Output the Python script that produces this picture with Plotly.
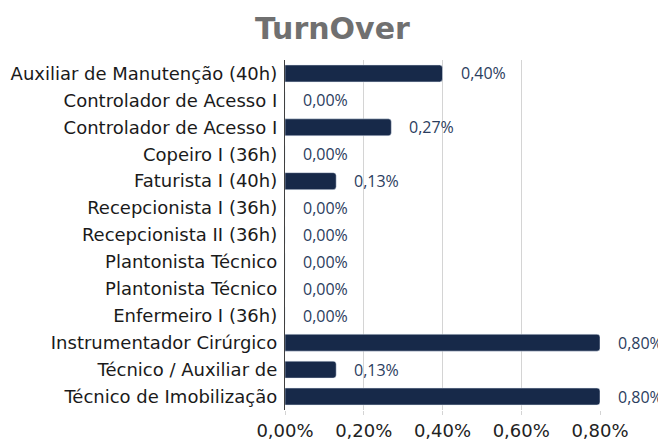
import plotly.graph_objects as go

categories = [
    "Auxiliar de Manutenção (40h)",
    "Controlador de Acesso I",
    "Controlador de Acesso I",
    "Copeiro I (36h)",
    "Faturista I (40h)",
    "Recepcionista I (36h)",
    "Recepcionista II (36h)",
    "Plantonista Técnico",
    "Plantonista Técnico",
    "Enfermeiro I (36h)",
    "Instrumentador Cirúrgico",
    "Técnico / Auxiliar de",
    "Técnico de Imobilização",
]
values = [0.40, 0.00, 0.27, 0.00, 0.13, 0.00, 0.00, 0.00, 0.00, 0.00, 0.80, 0.13, 0.80]
tick_vals = [0.0, 0.2, 0.4, 0.6, 0.8]
tick_text = ["0,00%", "0,20%", "0,40%", "0,60%", "0,80%"]

pos = list(range(len(categories)))
labels = [f"{v:.2f}".replace(".", ",") + "%" for v in values]

fig = go.Figure()
fig.add_trace(go.Bar(
    x=values, y=pos, orientation="h", width=0.63,
    marker=dict(color="#172949", cornerradius=3),
    hoverinfo="skip",
))
for v, p, t in zip(values, pos, labels):
    fig.add_annotation(x=v, y=p, text=t, showarrow=False, xanchor="left",
                       xshift=16, font=dict(family="Open Sans", size=16, color="#2b3d5e"))

# page body has an 8px margin, so the figure is 8px smaller and margins shifted
fig.update_layout(
    width=658, height=438,
    margin=dict(l=277, r=66, t=52, b=36, autoexpand=False),
    paper_bgcolor="white", plot_bgcolor="white",
    title=dict(text="<b>TurnOver</b>", x=0.493, xanchor="center", y=0.954, yanchor="middle",
               font=dict(family="DejaVu Sans", size=30, color="#707070")),
    showlegend=False,
    xaxis=dict(range=[0, 0.8], tickvals=tick_vals, ticktext=tick_text, automargin=False,
               showgrid=True, gridcolor="#d4d4d4", gridwidth=1.3, zeroline=False,
               ticks="outside", ticklen=4, tickcolor="#d4d4d4",
               tickfont=dict(family="DejaVu Sans", size=18, color="#222222")),
    yaxis=dict(range=[12.5, -0.5], tickvals=pos, ticktext=categories, automargin=False,
               showgrid=False, zeroline=False, showline=True, linecolor="#404040", linewidth=1.3,
               ticks="", ticklabelstandoff=3,
               tickfont=dict(family="DejaVu Sans", size=18, color="#1a1a1a")),
)

fig.write_html("out.html")
